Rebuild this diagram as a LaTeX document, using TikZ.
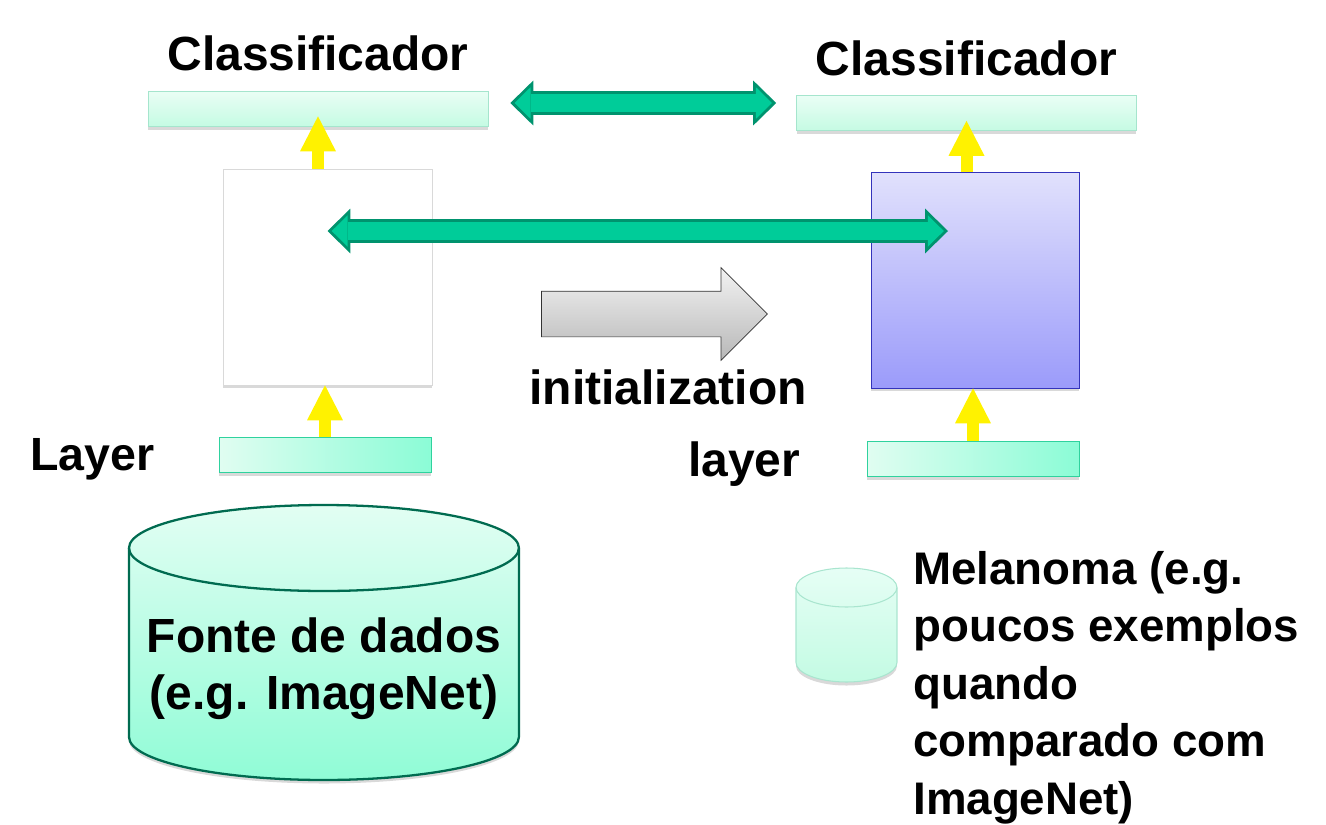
\documentclass[tikz,border=0pt]{standalone}
\usepackage{fontspec}
\setmainfont{Liberation Sans}
\usepackage{tikz}
\usetikzlibrary{positioning, shapes, shapes.arrows, shadows, calc, arrows.meta}
\definecolor{mint}{HTML}{00CC99}
\definecolor{mintdark}{HTML}{00936E}
\definecolor{clstop}{HTML}{EAFEF5}
\definecolor{clsbot}{HTML}{C5FBE3}
\definecolor{clsline}{HTML}{A5E5CD}
\definecolor{layleft}{HTML}{E0FDF1}
\definecolor{layright}{HTML}{8BFCD6}
\definecolor{layline}{HTML}{2FD29E}
\definecolor{nettop}{HTML}{E1E1FC}
\definecolor{netbot}{HTML}{9B9BFA}
\definecolor{netline}{HTML}{3333BB}
\definecolor{dbtop}{HTML}{E2FEF3}
\definecolor{dbbot}{HTML}{90FCD6}
\definecolor{dbline}{HTML}{006B50}
\definecolor{smalltop}{HTML}{E6FEF5}
\definecolor{smallbot}{HTML}{C3FBE3}
\definecolor{smallline}{HTML}{A9E5CF}
\tikzstyle{cls}=[%
      rectangle, draw=clsline, top color=clstop, bottom color=clsbot,
      drop shadow={shadow xshift=0pt, shadow yshift=-2pt, opacity=0.3},
      minimum width=6.8cm, minimum height=0.7cm, inner sep=0pt
]
\tikzstyle{lay}=[%
      rectangle, draw=layline, left color=layleft, right color=layright,
      drop shadow={shadow xshift=0pt, shadow yshift=-2pt, opacity=0.3},
      minimum width=4.24cm, minimum height=0.7cm, inner sep=0pt
]
\tikzstyle{net}=[%
      rectangle, draw=black!15, fill=white,
      drop shadow={shadow xshift=0pt, shadow yshift=-2pt, opacity=0.3},
      minimum width=4.18cm, minimum height=4.32cm, inner sep=0pt
]
\tikzstyle{netb}=[%
      rectangle, draw=netline, top color=nettop, bottom color=netbot,
      drop shadow={shadow xshift=0pt, shadow yshift=-2pt, opacity=0.3},
      minimum width=4.16cm, minimum height=4.32cm, inner sep=0pt
]
\tikzstyle{db}=[%
      draw=dbline, line width=1.3pt, top color=dbtop, bottom color=dbbot,
      drop shadow={shadow xshift=0pt, shadow yshift=-2pt, opacity=0.3}
]
\tikzstyle{dbs}=[%
      draw=smallline, line width=0.6pt, top color=smalltop, bottom color=smallbot,
      drop shadow={shadow xshift=0pt, shadow yshift=-2pt, opacity=0.3}
]
\tikzstyle{blk}=[%
      single arrow, draw=black!80, top color=black!5, bottom color=black!28,
      single arrow tip angle=90, single arrow head extend=0.47cm,
      minimum height=4.52cm, inner sep=0.45cm
]
\tikzstyle{lbl}=[%
      inner sep=0pt, font=\fontsize{27.3}{32.4}\selectfont\bfseries
]
\tikzstyle{up}=[%
      draw=yellow, line width=0.24cm,
      -{Triangle[width=0.72cm, length=0.7cm, line width=0pt]}
]
\tikzstyle{fatout}=[%
      draw=mintdark, line width=0.48cm,
      {Triangle[width=0.9cm, length=0.46cm, line width=0pt]}-{Triangle[width=0.9cm, length=0.46cm, line width=0pt]}
]
\tikzstyle{fatin}=[%
      draw=mint, line width=0.36cm, shorten <=0.084cm, shorten >=0.084cm,
      {Triangle[width=0.63cm, length=0.32cm, line width=0pt]}-{Triangle[width=0.63cm, length=0.32cm, line width=0pt]}
]
\begin{document}
\begin{tikzpicture}[x=0.02cm, y=-0.02cm]
    \useasboundingbox (0,0) rectangle (1326,825);

    \node[cls]  (cls1) at (318,108.5) {};
    \node[cls]  (cls2) at (966.5,113) {};
    \node[net]  (net1) at (327.5,277) {};
    \node[netb] (net2) at (975,280)   {};
    \node[lay]  (lay1) at (325,454.5) {};
    \node[lay]  (lay2) at (973,459)   {};

    \node[lbl] (tcls1) [above = 0.38cm of cls1] {Classificador};
    \node[lbl] (tcls2) [above = 0.38cm of cls2] {Classificador};
    \node[lbl, font=\fontsize{26.5}{32}\selectfont\bfseries, yshift=-0.1cm] (tlay1) [left = 1.28cm of lay1] {Layer};
    \node[lbl, yshift=-0.1cm] (tlay2) [left = 1.32cm of lay2] {layer};

    \node[blk] (init) at (643,314) {};
    \node[lbl] (tinit) at (668,387) {initialization};

    % data sources
    \coordinate (src) at (324,642.5);
    \draw[db] ($(src)+(-195,-94.5)$) -- ++(0,189)
        arc[start angle=180, end angle=360, x radius=3.9cm, y radius=0.86cm] -- ++(0,-189)
        arc[start angle=0, end angle=180, x radius=3.9cm, y radius=0.86cm] -- cycle;
    \draw[draw=dbline, line width=1.3pt] ($(src)+(-195,-94.5)$)
        arc[start angle=180, end angle=360, x radius=3.9cm, y radius=0.86cm];
    \node[lbl, align=center] (tsrc) at (324,669) {Fonte de dados\\(e.g. ImageNet)};

    \coordinate (mel) at (846.5,625);
    \draw[dbs] ($(mel)+(-50.5,-37.5)$) -- ++(0,75)
        arc[start angle=180, end angle=360, x radius=1.01cm, y radius=0.39cm] -- ++(0,-75)
        arc[start angle=0, end angle=180, x radius=1.01cm, y radius=0.39cm] -- cycle;
    \draw[draw=smallline, line width=0.6pt] ($(mel)+(-50.5,-37.5)$)
        arc[start angle=180, end angle=360, x radius=1.01cm, y radius=0.39cm];
    \node[lbl, anchor=north west, align=left, font=\fontsize{26}{32.7}\selectfont\bfseries] (tmel) at (913,551)
        {Melanoma (e.g.\\poucos exemplos\\quando\\comparado com\\ImageNet)};

    % yellow flow
    \draw[up] (lay1.north) -- (lay1.north |- net1.south);
    \draw[up] (lay2.north) -- (lay2.north |- net2.south);
    \draw[up, shorten >=-0.2cm] (cls1.south |- net1.north) -- (cls1.south);
    \draw[up, shorten >=-0.2cm] (cls2.south |- net2.north) -- (cls2.south);

    % transfer
    \draw[fatout] ($(cls1.east)+(22,-5.5)$) -- ($(cls2.west)+(-20,-10)$);
    \draw[fatin]  ($(cls1.east)+(22,-5.5)$) -- ($(cls2.west)+(-20,-10)$);
    \draw[fatout] ($(net1.center)+(0,-46)$) -- ($(net2.center)+(-27,-49)$);
    \draw[fatin]  ($(net1.center)+(0,-46)$) -- ($(net2.center)+(-27,-49)$);
\end{tikzpicture}
\end{document}
